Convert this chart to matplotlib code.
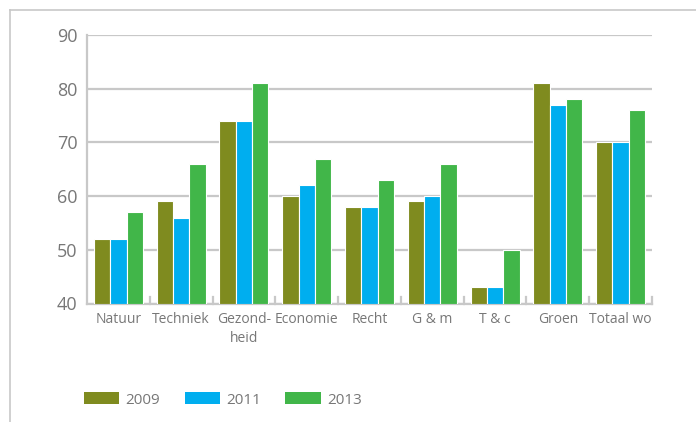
import matplotlib
matplotlib.use("Agg")
import matplotlib.pyplot as plt
from matplotlib.lines import Line2D
from matplotlib.patches import Patch
import numpy as np

categories = ["Natuur", "Techniek", "Gezond-\nheid", "Economie", "Recht",
              "G & m", "T & c", "Groen", "Totaal wo"]
years = ["2009", "2011", "2013"]
values_2009 = [52, 59, 74, 60, 58, 59, 43, 81, 70]
values_2011 = [52, 56, 74, 62, 58, 60, 43, 77, 70]
values_2013 = [57, 66, 81, 67, 63, 66, 50, 78, 76]
y_ticks = [40, 50, 60, 70, 80, 90]

colors = ["#7f8b1f", "#00aeef", "#41b649"]
grid_color = "#c8c8c8"
text_color = "#777777"

plt.rcParams["font.family"] = ["Open Sans", "DejaVu Sans"]

W, H = 696, 422
fig = plt.figure(figsize=(W / 100, H / 100), dpi=100)

# axes box in pixel coordinates
left, right, top, bottom = 87, 652, 35, 303.5
ax = fig.add_axes([left / W, 1 - bottom / H, (right - left) / W, (bottom - top) / H])

x = np.arange(len(categories))
bw = 0.26
for i, (vals, c) in enumerate(zip([values_2009, values_2011, values_2013], colors)):
    ax.bar(x + (i - 1) * bw, np.array(vals) - 40, bottom=40, width=bw,
           color=c, edgecolor="white", linewidth=0.8, zorder=3)

ax.set_xlim(-0.5, len(categories) - 0.5)
ax.set_ylim(40, 90)
ax.set_yticks(y_ticks)
ax.set_yticklabels([str(t) for t in y_ticks], fontsize=13, color=text_color)
ax.yaxis.grid(True, color=grid_color, linewidth=1.6, zorder=0)
ax.tick_params(axis="y", length=0, pad=7)

ax.set_xticks(x)
ax.set_xticklabels(categories, fontsize=10, color=text_color, linespacing=1.4)
ax.tick_params(axis="x", length=0, pad=6)
# small boundary ticks between categories
for b in np.arange(0.5, len(categories) - 0.5 + 1e-9, 1.0):
    ax.plot([b, b], [40, 41.2], color=grid_color, linewidth=1.6, zorder=2,
            clip_on=False)

for s in ["top", "right"]:
    ax.spines[s].set_visible(False)
for s in ["left", "bottom"]:
    ax.spines[s].set_color(grid_color)
    ax.spines[s].set_linewidth(1.6)

# outer frame: top and left border
fig.add_artist(Line2D([9.5 / W, 1], [1 - 9.5 / H, 1 - 9.5 / H],
                      transform=fig.transFigure, color="#c8c8c8", linewidth=1.2))
fig.add_artist(Line2D([9.5 / W, 9.5 / W], [0, 1 - 9.5 / H],
                      transform=fig.transFigure, color="#c8c8c8", linewidth=1.2))

handles = [Patch(facecolor=c, edgecolor="none") for c in colors]
fig.legend(handles, years, loc="center left", bbox_to_anchor=(70 / W, 1 - 400 / H),
           ncol=3, frameon=False, fontsize=11, labelcolor=text_color,
           handlelength=2.3, handleheight=0.8, handletextpad=0.42, columnspacing=1.6)

fig.savefig("out.png", dpi=100)
